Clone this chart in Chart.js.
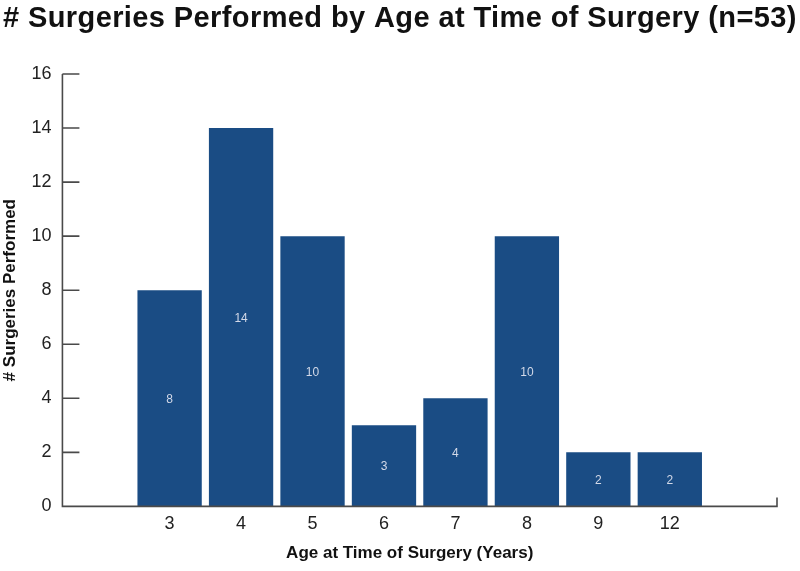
<!DOCTYPE html>
<html>
<head>
<meta charset="utf-8">
<script src="https://cdn.jsdelivr.net/npm/chart.js@4/dist/chart.umd.min.js"></script>
<style>
  html, body { margin: 0; padding: 0; background: #fff; }
  #wrap { width: 800px; height: 571px; position: relative; }
</style>
</head>
<body>
<div id="wrap"><canvas id="grafico"></canvas></div>
<script>
// dados (slots vazios nas pontas)
const idades = ['', '3', '4', '5', '6', '7', '8', '9', '12', ''];
const cirurgias = [null, 8, 14, 10, 3, 4, 10, 2, 2, null];
const yTicks = [0, 2, 4, 6, 8, 10, 12, 14, 16];
const titulo = '# Surgeries Performed by Age at Time of Surgery (n=53)';

const corBarra = '#1a4c84';
const corEixo = '#4a4a4a';
const fonte = '"Liberation Sans", Arial, Helvetica, sans-serif';

// título, eixos com ticks para dentro e título do eixo x
const eixosPlugin = {
    id: 'eixos',
    afterDraw(chart) {
        const ctx = chart.ctx;
        const a = chart.chartArea;
        const y = chart.scales.y;
        ctx.save();
        ctx.strokeStyle = corEixo;
        ctx.lineWidth = 1.6;
        ctx.beginPath();
        ctx.moveTo(a.left, y.getPixelForValue(16));
        ctx.lineTo(a.left, a.bottom);
        ctx.lineTo(a.right, a.bottom);
        ctx.lineTo(a.right, a.bottom - 9);
        yTicks.forEach(v => {
            const py = y.getPixelForValue(v);
            ctx.moveTo(a.left, py);
            ctx.lineTo(a.left + 17, py);
        });
        ctx.stroke();

        ctx.fillStyle = '#111';
        ctx.textBaseline = 'alphabetic';
        ctx.font = 'bold 29px ' + fonte;
        ctx.textAlign = 'left';
        ctx.letterSpacing = '0.4px';
        ctx.fillText(titulo, 3, 27);

        ctx.letterSpacing = '0px';
        ctx.font = 'bold 17px ' + fonte;
        ctx.textAlign = 'center';
        ctx.textBaseline = 'middle';
        ctx.fillText('Age at Time of Surgery (Years)', a.left + (a.right - a.left) * 0.486, 553);
        ctx.restore();
    }
};

// rótulos dentro das barras
const rotulosPlugin = {
    id: 'rotulos',
    afterDatasetsDraw(chart) {
        const ctx = chart.ctx;
        const meta = chart.getDatasetMeta(0);
        ctx.save();
        ctx.fillStyle = '#d3d9e8';
        ctx.font = '12px ' + fonte;
        ctx.textAlign = 'center';
        ctx.textBaseline = 'middle';
        meta.data.forEach((bar, i) => {
            const v = cirurgias[i];
            if (v == null) return;
            ctx.fillText(String(v), bar.x, (bar.y + bar.base) / 2 + 1);
        });
        ctx.restore();
    }
};

const ctxG = document.getElementById('grafico').getContext('2d');
let grafico = new Chart(ctxG, {
    type: 'bar',
    data: {
        labels: idades,
        datasets: [{
            label: '# Surgeries',
            data: cirurgias,
            backgroundColor: corBarra,
            borderWidth: 0,
            barPercentage: 0.9,
            categoryPercentage: 1.0
        }]
    },
    options: {
        responsive: true, maintainAspectRatio: false,
        animation: false,
        layout: { padding: { top: 74, left: 0, right: 23, bottom: 29 } },
        plugins: {
            legend: { display: false },
            tooltip: { enabled: false },
            title: { display: false }
        },
        scales: {
            x: {
                grid: { display: false, drawTicks: false },
                border: { display: false },
                ticks: { color: '#222', font: { family: fonte, size: 18 }, padding: 7, maxRotation: 0, autoSkip: false }
            },
            y: {
                min: 0, max: 16,
                grid: { display: false, drawTicks: false },
                border: { display: false },
                ticks: { stepSize: 2, color: '#222', font: { family: fonte, size: 18 }, padding: 11 },
                title: {
                    display: true, text: '# Surgeries Performed', color: '#111',
                    font: { family: fonte, size: 17, weight: 'bold' },
                    padding: { top: 0, bottom: 0 }
                }
            }
        }
    },
    plugins: [eixosPlugin, rotulosPlugin]
});
</script>
</body>
</html>
